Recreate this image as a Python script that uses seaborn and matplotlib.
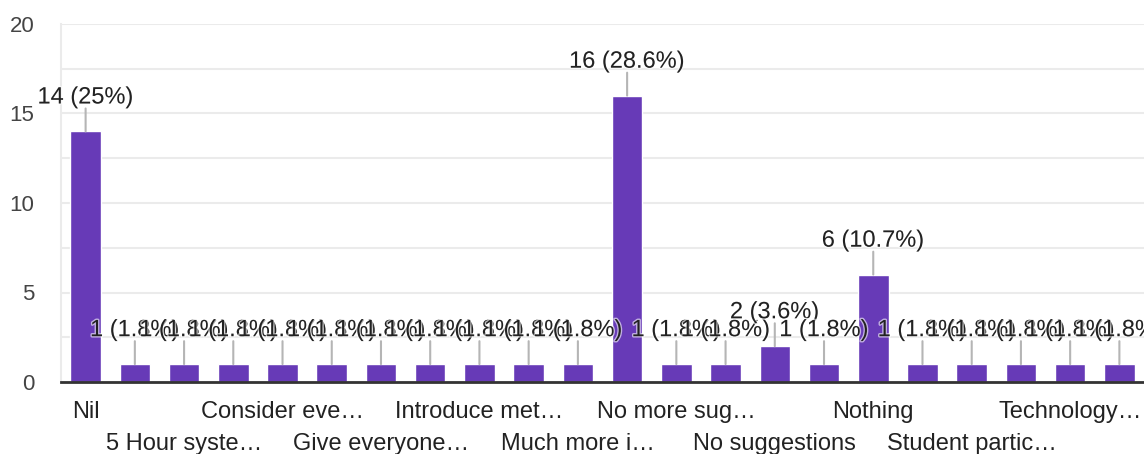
import matplotlib
matplotlib.use('Agg')
import matplotlib.pyplot as plt
import matplotlib.patheffects as pe
from matplotlib.ticker import MultipleLocator
import seaborn as sns

# responses per suggestion (22 answers, 56 responses)
counts = [14, 1, 1, 1, 1, 1, 1, 1, 1, 1, 1, 16, 1, 1, 2, 1, 6, 1, 1, 1, 1, 1]
# only every other category gets a visible label
tick_labels = ['Nil', '5 Hour syste…', 'Consider eve…', 'Give everyone…',
               'Introduce met…', 'Much more i…', 'No more sug…', 'No suggestions',
               'Nothing', 'Student partic…', 'Technology…']
total = sum(counts)
positions = list(range(len(counts)))

sns.set_theme(style='white')
plt.rcParams['font.family'] = ['Liberation Sans', 'DejaVu Sans']

fig = plt.figure(figsize=(11.44, 4.54), dpi=100)
ax = fig.add_axes([61 / 1144, 72 / 454, 1 - 61 / 1144, 358 / 454])

sns.barplot(x=positions, y=counts, color='#673ab7', saturation=1, width=0.62, ax=ax)

ax.set_xlim(-0.5, len(counts) - 0.5)
ax.set_ylim(0, 20)
ax.yaxis.set_major_locator(MultipleLocator(5))
ax.yaxis.set_minor_locator(MultipleLocator(2.5))
ax.grid(axis='y', which='both', color='#ebebeb', lw=1.5)
ax.set_axisbelow(True)

for s in ['top', 'right']:
    ax.spines[s].set_visible(False)
ax.spines['left'].set_color('#ebebeb')
ax.spines['left'].set_linewidth(1.5)
ax.spines['bottom'].set_color('#333333')
ax.spines['bottom'].set_linewidth(2)

ax.set_xticks(positions[::2])
ax.set_xticklabels(tick_labels)
ax.tick_params(axis='x', length=0, pad=13.5, labelsize=17, labelcolor='#222222')
ax.tick_params(axis='y', which='both', length=0, pad=19, labelsize=16, labelcolor='#444444')
for k, lab in enumerate(ax.get_xticklabels()):
    if k % 2 == 1:
        lab.set_y(-32 / 358)

ax.set_xlabel('')
ax.set_ylabel('')

for i, v in enumerate(counts):
    pct = f'{v / total * 100:.1f}'.rstrip('0').rstrip('.')
    ax.annotate('', xy=(i, v), xytext=(0, 16.5), textcoords='offset points',
                arrowprops=dict(arrowstyle='-', color='#b5b5b5', lw=1.5,
                                shrinkA=0, shrinkB=0), zorder=5)
    ax.annotate(f'{v} ({pct}%)', xy=(i, v), xytext=(0, 16.5),
                textcoords='offset points', ha='center', va='bottom',
                fontsize=17, color='#222222', zorder=6 + i,
                path_effects=[pe.withStroke(linewidth=2, foreground='white', alpha=0.6)])

fig.savefig('out.png', dpi=100)
